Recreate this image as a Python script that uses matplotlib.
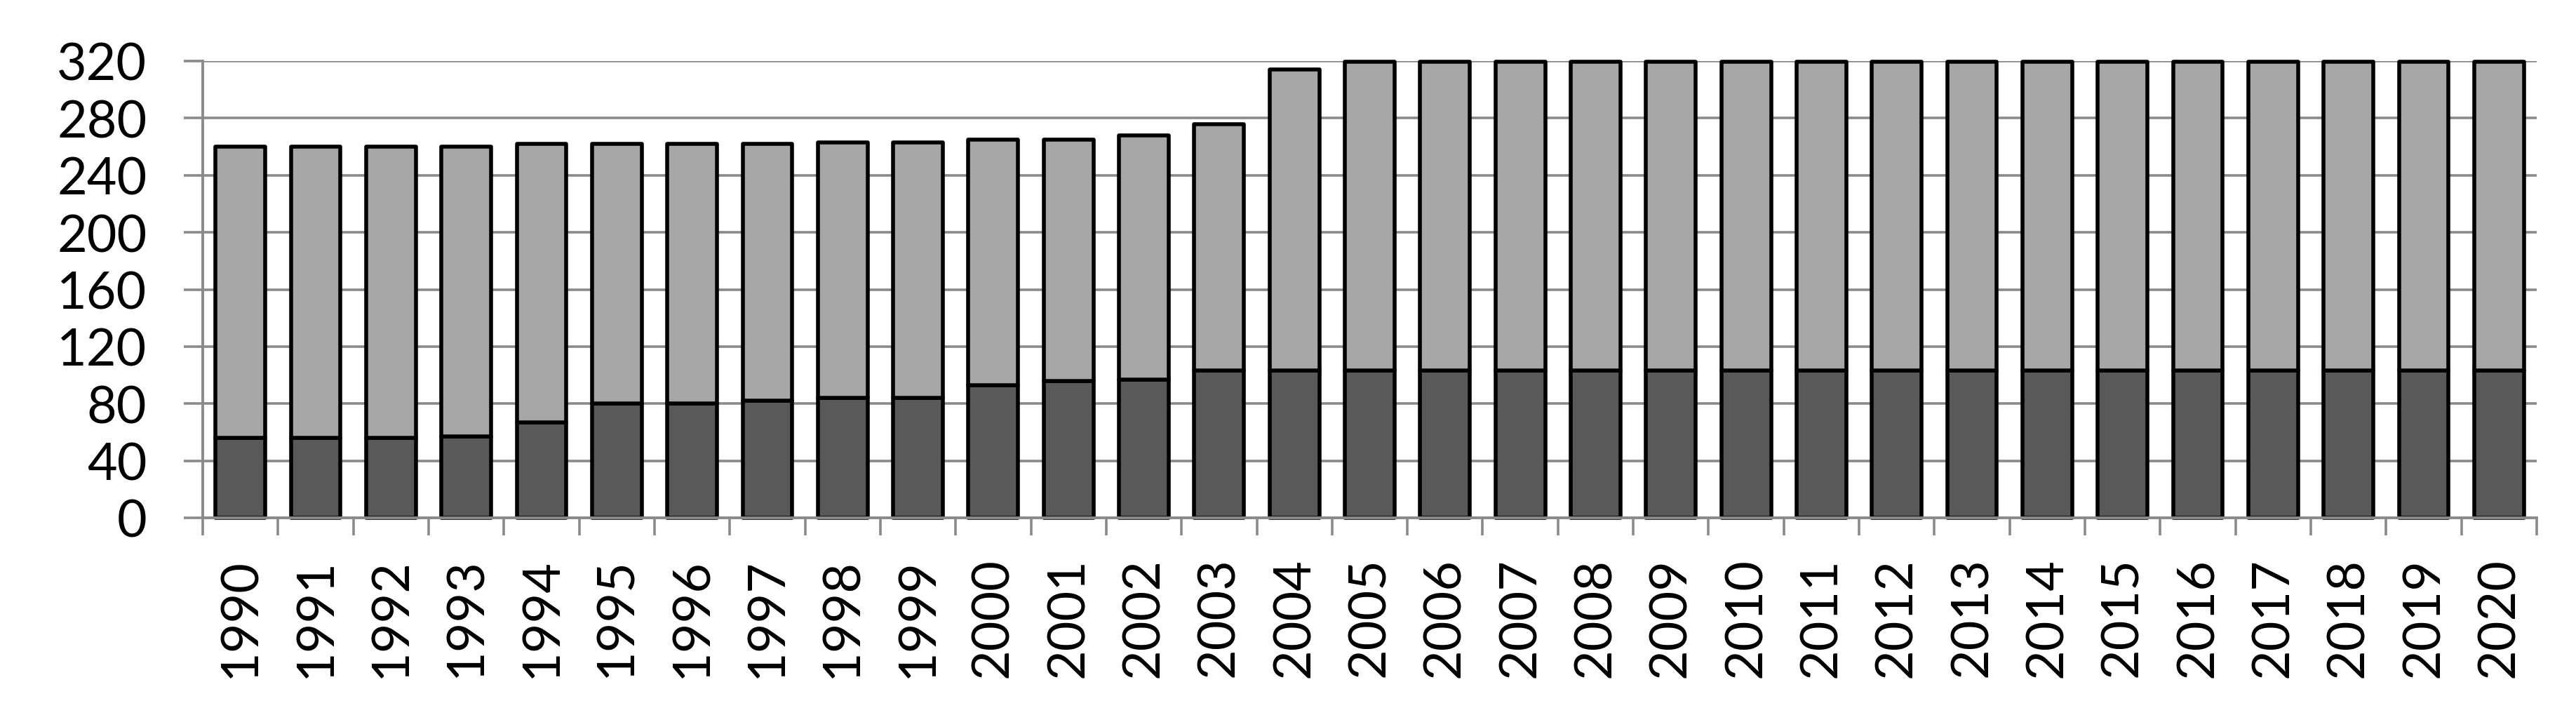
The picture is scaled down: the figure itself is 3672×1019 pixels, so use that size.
import matplotlib
matplotlib.use("Agg")
import matplotlib.pyplot as plt
import numpy as np

years = [str(y) for y in range(1990, 2021)]
lower = [56, 56, 56, 57, 67, 80, 80, 82, 84, 84, 93, 96, 97, 103, 103,
         103, 103, 103, 103, 103, 103, 103, 103, 103, 103, 103, 103, 103, 103, 103, 103]
upper = [204, 204, 204, 203, 195, 182, 182, 180, 179, 179, 172, 169, 171, 173, 211,
         216.5, 216.5, 216.5, 216.5, 216.5, 216.5, 216.5, 216.5, 216.5, 216.5, 216.5,
         216.5, 216.5, 216.5, 216.5, 216.5]
yticks = [0, 40, 80, 120, 160, 200, 240, 280, 320]

plt.rcParams['font.family'] = ['Lato', 'DejaVu Sans']

W, H = 3672, 1020
fig = plt.figure(figsize=(W / 100, H / 100), dpi=100)
left, right, top, bottom = 289, 3616, 88, 739
ax = fig.add_axes([left / W, 1 - bottom / H, (right - left) / W, (bottom - top) / H])

grid_c = '#8a8a8a'
x = np.arange(len(years))
bw = 0.66
lw = 4.0
ax.bar(x, lower, width=bw, color='#595959', edgecolor='black', linewidth=lw,
       clip_on=False, joinstyle='round', zorder=1)
ax.bar(x, upper, width=bw, bottom=lower, color='#a6a6a6', edgecolor='black',
       linewidth=lw, clip_on=False, joinstyle='round', zorder=1)

ax.set_xlim(-0.5, len(years) - 0.5)
ax.set_ylim(0, 320)
ax.set_yticks(yticks)
ax.set_yticklabels([str(v) for v in yticks])
ax.set_xticks(x)
ax.set_xticklabels(years, rotation=90)
ax.set_xticks(np.arange(-0.5, len(years)), minor=True)

ax.set_axisbelow(True)
ax.yaxis.grid(True, color=grid_c, linewidth=2.6)
ax.xaxis.grid(False)

for s in ['top', 'right']:
    ax.spines[s].set_visible(False)
for s in ['left', 'bottom']:
    ax.spines[s].set_color(grid_c)
    ax.spines[s].set_linewidth(2.8)
    ax.spines[s].set_zorder(2.5)

ax.tick_params(axis='y', which='major', length=19.4, width=2.6, color=grid_c,
               labelsize=53, pad=38, labelcolor='black')
ax.tick_params(axis='x', which='major', length=0, labelsize=53, pad=40,
               labelcolor='black')
ax.tick_params(axis='x', which='minor', length=18, width=2.6, color=grid_c)

fig.savefig('out.png', dpi=100, facecolor='white')
